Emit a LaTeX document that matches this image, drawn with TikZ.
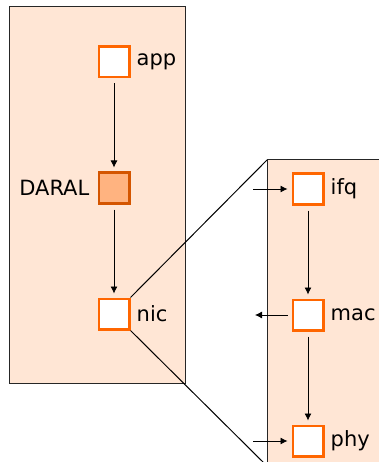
\documentclass[tikz,border=0pt]{standalone}
\usepackage{fontspec}
\setmainfont{DejaVu Sans}
\usetikzlibrary{arrows.meta}

\definecolor{peach}{HTML}{FFE6D5}
\definecolor{layerorange}{HTML}{FF6600}
\definecolor{daralfill}{HTML}{FFB380}
\definecolor{daralline}{HTML}{D45500}

\begin{document}
\begin{tikzpicture}[x=1pt,y={(0,-1pt)},
  every node/.style={font=\fontsize{21}{25}\selectfont},
  panel/.style={draw=black!85,line width=1pt,fill=peach},
  layer/.style={draw=layerorange,line width=2.5pt,fill=white,minimum size=30.5pt,inner sep=0pt},
  daral/.style={layer,draw=daralline,fill=daralfill},
  tag/.style={label={[inner sep=0pt,label distance=6pt]#1}},
  flow/.style={-{Latex[length=7pt,width=7pt]},line width=0.8pt,shorten <=5pt,shorten >=4pt},
  zoomline/.style={line width=1pt}]
\useasboundingbox (0,0) rectangle (379,462);
\clip (0,0) rectangle (379,462);

% host stack
\draw[panel] (9,7) rectangle (185,383);

\node[layer,tag={right:app}] (app) at (114,62) {};
\node[daral,label={[inner sep=0pt,label distance=8pt]left:DARAL}] (daral) at (114,188) {};
\node[layer,tag={right:nic}] (nic) at (114,314) {};

\draw[flow] (app) -- (daral);
\draw[flow] (daral) -- (nic);

% inside the nic
\draw[panel] (267,160) rectangle (400,480);
\coordinate (zoomtop) at (267,160);
\coordinate (zoombot) at (267,466);

\node[layer,tag={right:ifq}] (ifq) at (308,189) {};
\node[layer,tag={right:mac}] (mac) at (308,315) {};
\node[layer,tag={right:phy}] (phy) at (308,441) {};

\draw[flow] (ifq) -- (mac);
\draw[flow] (mac) -- (phy);

\coordinate (ifqin) at (253,189);
\coordinate (macout) at (255,315);
\coordinate (phyin) at (253,441);
\draw[flow,shorten <=0pt] (ifqin) -- (ifq);
\draw[flow,shorten >=0pt,shorten <=4pt] (mac) -- (macout);
\draw[flow,shorten <=0pt] (phyin) -- (phy);

\draw[zoomline] (nic.north east) -- (zoomtop);
\draw[zoomline] (nic.south east) -- (zoombot);

\end{tikzpicture}
\end{document}
